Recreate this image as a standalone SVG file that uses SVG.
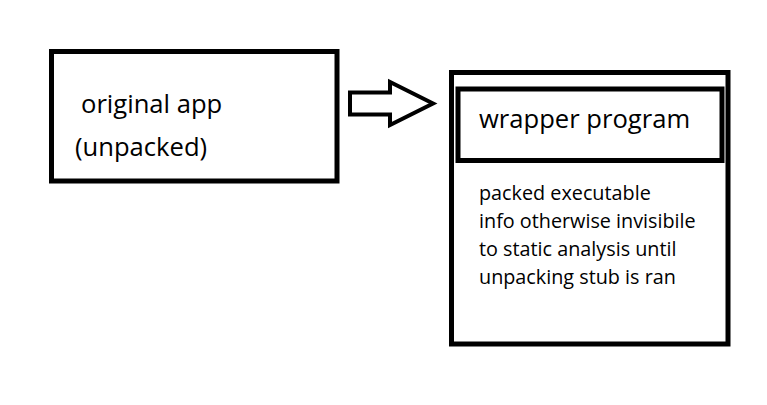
<svg xmlns="http://www.w3.org/2000/svg" width="767" height="405" viewBox="0 0 767 405">
<style>
.box{fill:none;stroke:#000;stroke-width:5}
.t{font-family:"Open Sans","Noto Sans",sans-serif;fill:#000}
.big{font-size:25.6px}
.small{font-size:19.8px}
</style>
<rect width="767" height="405" fill="#fff"/>
<g id="original-app">
<rect class="box" x="51.5" y="51.5" width="285.5" height="129.5"/>
<text class="t big" x="81" y="113">original app</text>
<text class="t big" x="75" y="156">(unpacked)</text>
</g>
<g id="connectors">
<path d="M350,92.5 L390,92.5 L390,82 L433,103.5 L390,125 L390,114.5 L350,114.5 Z" fill="#fff" stroke="#000" stroke-width="4" stroke-linejoin="miter"/>
</g>
<g id="wrapper">
<rect class="box" x="451.5" y="72.5" width="276.5" height="271.5"/>
<rect class="box" x="458" y="89" width="264" height="71.5"/>
<text class="t big" x="479" y="128">wrapper program</text>
<text class="t small" x="479" y="200">packed executable</text>
<text class="t small" x="479" y="228">info otherwise invisibile</text>
<text class="t small" x="479" y="256">to static analysis until</text>
<text class="t small" x="479" y="284">unpacking stub is ran</text>
</g>
</svg>
